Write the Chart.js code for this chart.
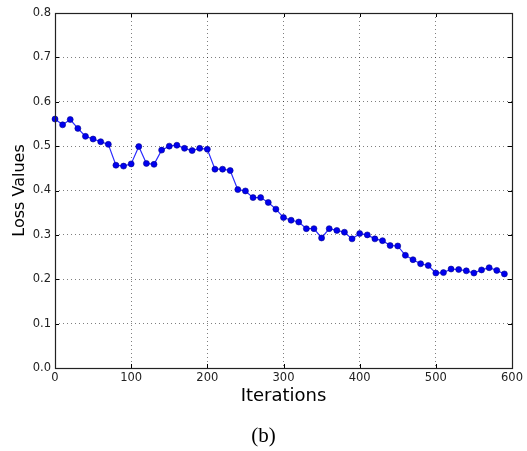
<!DOCTYPE html>
<html>
<head>
<meta charset="utf-8">
<script src="https://cdn.jsdelivr.net/npm/chart.js@4/dist/chart.umd.min.js"></script>
<style>
  html, body { margin: 0; padding: 0; background: #fff; }
  #wrap { position: relative; width: 527px; height: 451px; }
  #caption {
    position: absolute; left: 0; width: 527px; top: 422px;
    text-align: center; font-family: 'Liberation Serif', 'DejaVu Serif', serif;
    font-size: 21px; color: #000; line-height: 26px;
  }
</style>
</head>
<body>
<div id="wrap">
  <canvas id="chart" width="527" height="451"></canvas>
  <div id="caption">(b)</div>
</div>
<script>
// x positions (iterations) and the loss
const iterations = [
  0, 10, 20, 30, 40, 50, 60, 70, 80, 90,
  100, 110, 120, 130, 140, 150, 160, 170, 180, 190,
  200, 210, 220, 230, 240, 250, 260, 270, 280, 290,
  300, 310, 320, 330, 340, 350, 360, 370, 380, 390,
  400, 410, 420, 430, 440, 450, 460, 470, 480, 490,
  500, 510, 520, 530, 540, 550, 560, 570, 580, 590
];
const lossValues = [
  0.561, 0.548, 0.560, 0.540, 0.522, 0.516, 0.510, 0.504, 0.457, 0.455,
  0.460, 0.499, 0.461, 0.459, 0.491, 0.500, 0.502, 0.495, 0.490, 0.495,
  0.493, 0.448, 0.448, 0.445, 0.402, 0.399, 0.384, 0.384, 0.373, 0.358,
  0.339, 0.333, 0.329, 0.314, 0.314, 0.293, 0.314, 0.310, 0.306, 0.291,
  0.303, 0.300, 0.291, 0.287, 0.276, 0.275, 0.254, 0.244, 0.235, 0.231,
  0.214, 0.215, 0.223, 0.222, 0.219, 0.214, 0.221, 0.226, 0.220, 0.212
];
const xTicks = [0, 100, 200, 300, 400, 500, 600];
const yTicks = ['0.0', '0.1', '0.2', '0.3', '0.4', '0.5', '0.6', '0.7', '0.8'];

const tickFont = { family: 'DejaVu Sans', size: 11.5 };

// matplotlib-ish frame with inward ticks on all four sides
const framePlugin = {
  id: 'frame',
  afterDraw(chart) {
    const { ctx, chartArea: a, scales } = chart;
    ctx.save();
    ctx.strokeStyle = '#000';
    ctx.lineWidth = 1;
    ctx.beginPath();
    scales.x.ticks.forEach(t => {
      const px = Math.round(scales.x.getPixelForValue(t.value)) + 0.5;
      ctx.moveTo(px, a.bottom); ctx.lineTo(px, a.bottom - 4);
      ctx.moveTo(px, a.top); ctx.lineTo(px, a.top + 4);
    });
    scales.y.ticks.forEach(t => {
      const py = Math.round(scales.y.getPixelForValue(t.value)) + 0.5;
      ctx.moveTo(a.left, py); ctx.lineTo(a.left + 4, py);
      ctx.moveTo(a.right, py); ctx.lineTo(a.right - 4, py);
    });
    ctx.stroke();
    ctx.strokeStyle = '#222';
    ctx.lineWidth = 1.2;
    ctx.strokeRect(Math.round(a.left) + 0.5, Math.round(a.top) + 0.5,
      Math.round(a.right - a.left), Math.round(a.bottom - a.top));
    ctx.restore();
  }
};

new Chart(document.getElementById('chart'), {
  type: 'line',
  data: {
    datasets: [{
      data: iterations.map((x, i) => ({ x, y: lossValues[i] })),
      borderColor: '#2a2aff',
      borderWidth: 1.2,
      pointRadius: 3,
      pointBackgroundColor: '#0000f0',
      pointBorderColor: '#00008b',
      pointBorderWidth: 0.6,
      tension: 0,
      clip: false
    }]
  },
  options: {
    responsive: false,
    animation: false,
    layout: { padding: { left: 0, top: 13, right: 15, bottom: 44 } },
    plugins: { legend: { display: false }, tooltip: { enabled: false } },
    scales: {
      x: {
        type: 'linear',
        min: 0, max: 600,
        afterBuildTicks: s => { s.ticks = xTicks.map(v => ({ value: v })); },
        afterFit: s => { s.height = 39; },
        ticks: { font: tickFont, color: '#222', padding: 3, maxRotation: 0 },
        grid: { color: 'rgba(0,0,0,0.5)', lineWidth: 1, drawTicks: false },
        border: { display: false, dash: [1, 3] },
        title: {
          display: true, text: 'Iterations', color: '#000',
          font: { family: 'DejaVu Sans', size: 18 }, padding: 0
        }
      },
      y: {
        type: 'linear',
        min: 0, max: 0.8,
        afterBuildTicks: s => { s.ticks = yTicks.map(v => ({ value: parseFloat(v) })); },
        afterFit: s => { s.width = 55; },
        ticks: {
          font: tickFont, color: '#222', padding: 4,
          callback: (v, i) => yTicks[i]
        },
        grid: { color: 'rgba(0,0,0,0.5)', lineWidth: 1, drawTicks: false },
        border: { display: false, dash: [1, 3] },
        title: {
          display: true, text: 'Loss Values', color: '#000',
          font: { family: 'DejaVu Sans', size: 16 }, padding: { top: 10 }
        }
      }
    }
  },
  plugins: [framePlugin]
});
</script>
</body>
</html>
